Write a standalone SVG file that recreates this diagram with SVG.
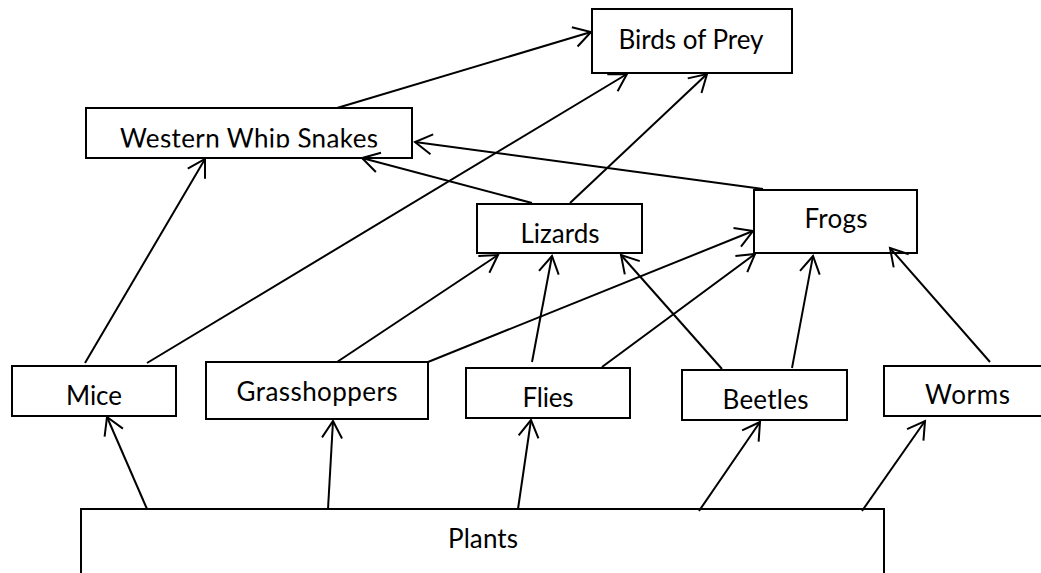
<svg xmlns="http://www.w3.org/2000/svg" width="1041" height="573" viewBox="0 0 1041 573">
<style>
.box{fill:#fff;stroke:#000;stroke-width:2}
.lbl{font-family:Lato,"Liberation Sans",sans-serif;font-size:26px;fill:#000;text-anchor:middle}
.edge{stroke:#000;stroke-width:2;fill:none;marker-end:url(#arr)}
</style>
<defs>
<marker id="arr" markerUnits="userSpaceOnUse" viewBox="-22 -14 26 28" refX="0" refY="0" markerWidth="26" markerHeight="28" orient="auto" overflow="visible">
<path d="M-17,-10 L0,0 L-17,10" fill="none" stroke="#000" stroke-width="2"/>
</marker>
<clipPath id="wwsclip"><rect x="86" y="108" width="326" height="39.5"/></clipPath>
</defs>
<rect width="1041" height="573" fill="#fff"/>
<g id="birds-of-prey"><rect class="box" x="592" y="9" width="200" height="64"/><text class="lbl" x="691" y="49" textLength="145" lengthAdjust="spacing">Birds of Prey</text></g>
<g id="western-whip-snakes"><rect class="box" x="86" y="108" width="326" height="50"/><text class="lbl" x="249" y="148" textLength="258" lengthAdjust="spacing" clip-path="url(#wwsclip)">Western Whip Snakes</text></g>
<g id="lizards"><rect class="box" x="477" y="204" width="165" height="49"/><text class="lbl" x="560" y="243" textLength="79" lengthAdjust="spacing">Lizards</text></g>
<g id="frogs"><rect class="box" x="754" y="190" width="163" height="63"/><text class="lbl" x="836" y="228" textLength="63" lengthAdjust="spacing">Frogs</text></g>
<g id="mice"><rect class="box" x="12" y="366" width="164" height="50"/><text class="lbl" x="94" y="405" textLength="56" lengthAdjust="spacing">Mice</text></g>
<g id="grasshoppers"><rect class="box" x="206" y="362" width="222" height="57"/><text class="lbl" x="317" y="401" textLength="161" lengthAdjust="spacing">Grasshoppers</text></g>
<g id="flies"><rect class="box" x="466" y="368" width="164" height="50"/><text class="lbl" x="548" y="407" textLength="51" lengthAdjust="spacing">Flies</text></g>
<g id="beetles"><rect class="box" x="682" y="370" width="165" height="50"/><text class="lbl" x="765.5" y="409" textLength="86" lengthAdjust="spacing">Beetles</text></g>
<g id="worms"><rect class="box" x="884" y="366" width="170" height="50"/><text class="lbl" x="967.5" y="404" textLength="85" lengthAdjust="spacing">Worms</text></g>
<g id="plants"><rect class="box" x="81" y="509" width="803" height="80"/><text class="lbl" x="483" y="548" textLength="70" lengthAdjust="spacing">Plants</text></g>
<g id="connectors">
<line class="edge" x1="337" y1="108" x2="591" y2="32"/>
<line class="edge" x1="147" y1="363" x2="627" y2="74"/>
<line class="edge" x1="570" y1="203" x2="707" y2="74"/>
<line class="edge" x1="85" y1="363" x2="205" y2="159"/>
<line class="edge" x1="532" y1="203" x2="362" y2="158"/>
<line class="edge" x1="763" y1="189" x2="415" y2="142"/>
<line class="edge" x1="337" y1="362" x2="498" y2="255"/>
<line class="edge" x1="532" y1="362" x2="552" y2="256"/>
<line class="edge" x1="722" y1="369" x2="621" y2="255"/>
<line class="edge" x1="428" y1="362" x2="753" y2="231"/>
<line class="edge" x1="602" y1="367" x2="755" y2="254"/>
<line class="edge" x1="792" y1="368" x2="813" y2="256"/>
<line class="edge" x1="990" y1="362" x2="890" y2="248"/>
<line class="edge" x1="147" y1="509" x2="107" y2="417"/>
<line class="edge" x1="328" y1="509" x2="333" y2="421"/>
<line class="edge" x1="518" y1="509" x2="531" y2="420"/>
<line class="edge" x1="699" y1="511" x2="760" y2="422"/>
<line class="edge" x1="862" y1="511" x2="925" y2="421"/>
</g>
</svg>
